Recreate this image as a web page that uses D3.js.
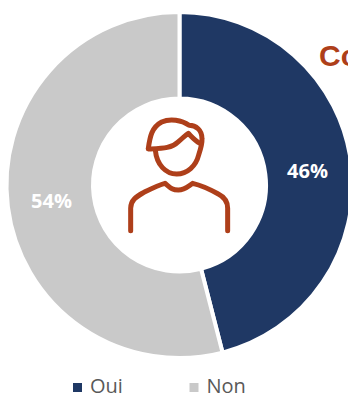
<!DOCTYPE html>
<html>
<head>
<meta charset="utf-8">
<script src="https://cdn.jsdelivr.net/npm/d3@7"></script>
<style>
html, body { margin: 0; padding: 0; background: #fff; overflow: hidden; }
svg { display: block; }
</style>
</head>
<body>
<svg id="chart" width="348" height="394"></svg>
<script>
const categories = ["Oui", "Non"];
const values = [46, 54];
const valueLabels = ["46%", "54%"];
const colors = ["#1f3864", "#c9c9c9"];
const titleFragment = "Co";
const accent = "#ae3f1a";

const svg = d3.select("#chart");
const cx = 179.5, cy = 185, outerR = 173, innerR = 86.5;

const pie = d3.pie().sort(null).value(d => d);
const arc = d3.arc().innerRadius(innerR).outerRadius(outerR);
const labelArc = d3.arc().innerRadius(129).outerRadius(129);

const ring = svg.append("g").attr("transform", `translate(${cx},${cy})`);
const slices = pie(values);

ring.selectAll("path")
  .data(slices)
  .join("path")
  .attr("d", arc)
  .attr("fill", (d, i) => colors[i])
  .attr("stroke", "#fff")
  .attr("stroke-width", 4);

// Value labels sit on the mid radius; the first one rides slightly lower
const labelNudge = [2, 0];
ring.selectAll("text")
  .data(slices)
  .join("text")
  .attr("transform", (d, i) => {
    const [x, y] = labelArc.centroid(d);
    return `translate(${x},${y + labelNudge[i]})`;
  })
  .attr("text-anchor", "middle")
  .attr("dy", "0.35em")
  .attr("font-family", "'Open Sans', Lato, sans-serif")
  .attr("font-weight", 700)
  .attr("font-size", 20)
  .attr("fill", "#fff")
  .text((d, i) => valueLabels[i]);

// Heading that runs off the right edge
svg.append("text")
  .attr("x", 319)
  .attr("y", 66)
  .attr("font-family", "'Liberation Sans', Arial, sans-serif")
  .attr("font-weight", 700)
  .attr("font-size", 30)
  .attr("fill", accent)
  .text(titleFragment);

// Person pictogram in the middle of the ring
const icon = svg.append("g")
  .attr("transform", "translate(120,100) scale(0.3333)")
  .attr("fill", "none")
  .attr("stroke", accent)
  .attr("stroke-width", 15)
  .attr("stroke-linecap", "round")
  .attr("stroke-linejoin", "round");

icon.append("path").attr("d",
  "M85,145 C90,110 95,82 125,66 C150,55 185,60 207,76 C228,76 246,90 246,116 C247,132 241,150 236,165 C228,198 202,222 170,222 C138,222 110,195 106,150");
icon.append("path").attr("d",
  "M85,147 C130,145 155,145 175,125 C188,115 195,106 205,100 C215,110 225,122 240,130");
icon.append("path").attr("d",
  "M32,392 L32,325 C32,300 50,290 70,278 C90,268 115,255 135,250 C150,262 155,270 175,270 C195,270 205,258 218,250 C240,255 270,268 295,282 C315,292 323,305 323,325 L323,392");

// Legend
const legendX = [73, 189.5];
const legend = svg.selectAll("g.legend")
  .data(categories)
  .join("g")
  .attr("class", "legend")
  .attr("transform", (d, i) => `translate(${legendX[i]},383)`);

legend.append("rect")
  .attr("width", 9)
  .attr("height", 9)
  .attr("fill", (d, i) => colors[i]);

legend.append("text")
  .attr("x", 17)
  .attr("y", 10)
  .attr("font-family", "'Open Sans', Lato, sans-serif")
  .attr("font-size", 20)
  .attr("fill", "#595959")
  .text(d => d);
</script>
</body>
</html>
